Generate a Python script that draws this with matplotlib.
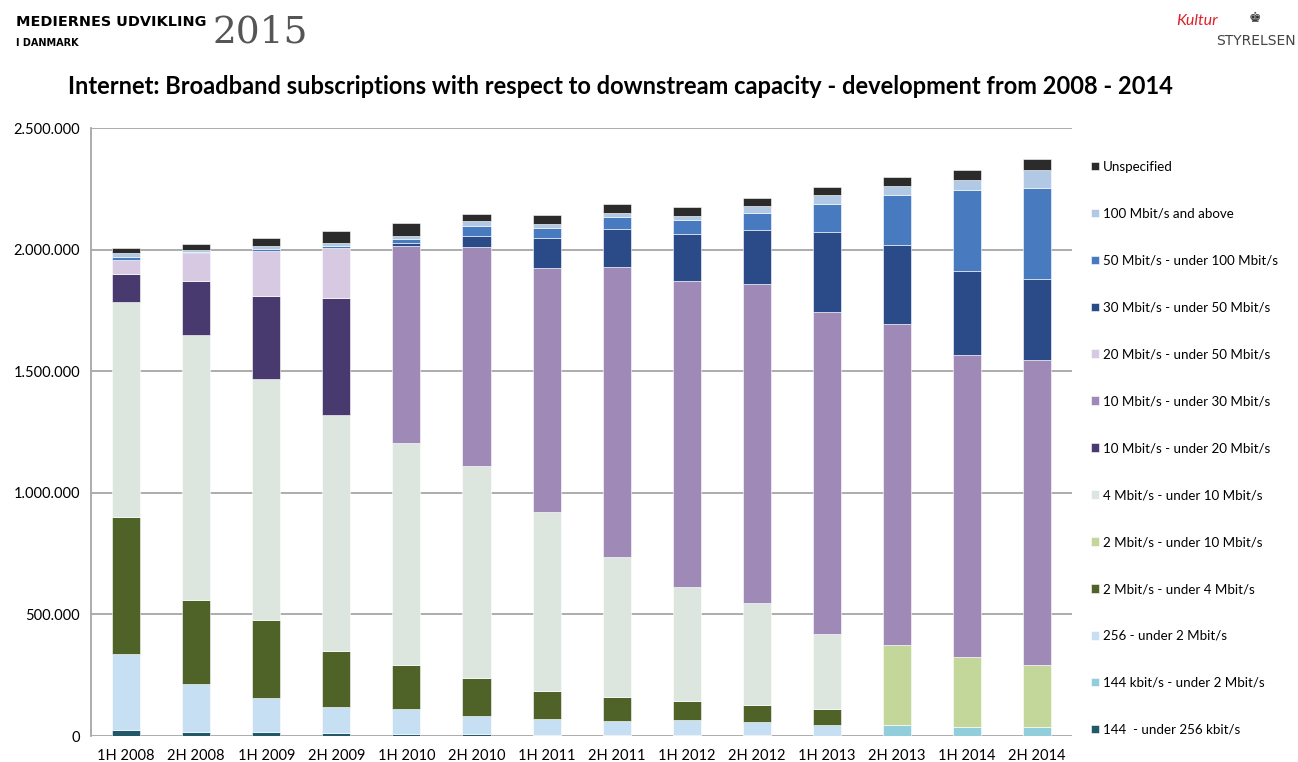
import matplotlib.pyplot as plt
import matplotlib.ticker as mticker
import numpy as np

periods = ['1H 2008', '2H 2008', '1H 2009', '2H 2009', '1H 2010', '2H 2010', '1H 2011',
           '2H 2011', '1H 2012', '2H 2012', '1H 2013', '2H 2013', '1H 2014', '2H 2014']

# subscriptions per capacity band, stacked bottom to top
k144_256 = [25000, 18000, 17000, 12000, 8000, 8000, 4000, 3000, 3000, 3000, 0, 0, 0, 0]
k144_2m = [0, 0, 0, 0, 0, 0, 0, 0, 0, 0, 0, 45000, 38000, 37000]
k256_2m = [312000, 194000, 140000, 108000, 102000, 75000, 66000, 60000, 61000, 54000, 45000, 0, 0, 0]
m2_4 = [563000, 347000, 322000, 229000, 180000, 154000, 115000, 96000, 80000, 70000, 65000, 0, 0, 0]
m2_10 = [0, 0, 0, 0, 0, 0, 0, 0, 0, 0, 0, 329000, 286000, 253000]
m4_10 = [886000, 1088000, 987000, 969000, 913000, 872000, 735000, 576000, 468000, 421000, 309000, 0, 0, 0]
m10_20 = [112000, 222000, 344000, 483000, 0, 0, 0, 0, 0, 0, 0, 0, 0, 0]
m10_30 = [0, 0, 0, 0, 811000, 903000, 1006000, 1195000, 1260000, 1310000, 1324000, 1321000, 1241000, 1258000]
m20_50 = [61000, 118000, 186000, 204000, 0, 0, 0, 0, 0, 0, 0, 0, 0, 0]
m30_50 = [0, 0, 0, 0, 14000, 46000, 121000, 156000, 191000, 222000, 330000, 323000, 349000, 332000]
m50_100 = [10000, 5000, 7000, 9000, 17000, 41000, 43000, 47000, 60000, 69000, 115000, 205000, 330000, 372000]
m100 = [16000, 8000, 11000, 14000, 13000, 17000, 14000, 16000, 17000, 31000, 37000, 40000, 41000, 75000]
unspecified = [23000, 22000, 34000, 47000, 50000, 31000, 39000, 37000, 37000, 32000, 31000, 34000, 41000, 47000]

series = [
    ('144  - under 256 kbit/s', k144_256, '#215968'),
    ('144 kbit/s - under 2 Mbit/s', k144_2m, '#92CDDC'),
    ('256 - under 2 Mbit/s', k256_2m, '#C6DFF2'),
    ('2 Mbit/s - under 4 Mbit/s', m2_4, '#4F6228'),
    ('2 Mbit/s - under 10 Mbit/s', m2_10, '#C4D79B'),
    ('4 Mbit/s - under 10 Mbit/s', m4_10, '#DCE6DF'),
    ('10 Mbit/s - under 20 Mbit/s', m10_20, '#48396E'),
    ('10 Mbit/s - under 30 Mbit/s', m10_30, '#9F89B7'),
    ('20 Mbit/s - under 50 Mbit/s', m20_50, '#D6C9E1'),
    ('30 Mbit/s - under 50 Mbit/s', m30_50, '#2A4A88'),
    ('50 Mbit/s - under 100 Mbit/s', m50_100, '#477ABE'),
    ('100 Mbit/s and above', m100, '#B1C9E5'),
    ('Unspecified', unspecified, '#2B2B2B'),
]

plt.rcParams['font.family'] = ['Lato', 'DejaVu Sans']

fig = plt.figure(figsize=(12.98, 7.62), dpi=100)
ax = fig.add_axes([0.0701, 0.0341, 0.7560, 0.7979])

x = np.arange(len(periods))
bottom = np.zeros(len(periods))
handles = []
for label, vals, color in series:
    vals = np.array(vals, dtype=float)
    h = ax.bar(x, vals, 0.4, bottom=bottom, color=color, label=label,
               edgecolor='white', linewidth=0.4, zorder=3)
    handles.append(h)
    bottom += vals

ax.set_xlim(-0.5, len(periods) - 0.5)
ax.set_ylim(0, 2500000)
ax.yaxis.set_major_locator(mticker.MultipleLocator(500000))
ax.yaxis.set_major_formatter(mticker.FuncFormatter(lambda v, p: '{:,.0f}'.format(v).replace(',', '.')))
ax.grid(axis='y', color='#A6A6A6', linewidth=1.3, zorder=0)
ax.set_xticks(x)
ax.set_xticklabels(periods)
ax.tick_params(axis='both', length=0, labelsize=10.5, colors='black')
ax.tick_params(axis='x', pad=9)
ax.tick_params(axis='y', pad=8)
for side in ['top', 'right', 'bottom']:
    ax.spines[side].set_visible(False)
ax.spines['left'].set_color('#A6A6A6')
ax.spines['left'].set_linewidth(1.3)

ax.legend(handles[::-1], [s[0] for s in series][::-1], loc='upper left',
          bbox_to_anchor=(1.0, 0.977), frameon=False, fontsize=9.6,
          handlelength=0.6, handleheight=0.6, handletextpad=0.3,
          labelspacing=2.62, borderaxespad=1.0)

fig.text(0.478, 0.887, 'Internet: Broadband subscriptions with respect to downstream capacity - development from 2008 - 2014',
         ha='center', va='center', fontsize=17, fontweight='bold')

# header
fig.text(0.012, 0.971, 'MEDIERNES UDVIKLING', ha='left', va='center', fontsize=10.4,
         fontweight='bold', family=['DejaVu Sans'])
fig.text(0.012, 0.944, 'I DANMARK', ha='left', va='center', fontsize=7,
         fontweight='bold', family=['DejaVu Sans'])
fig.text(0.164, 0.957, '2015', ha='left', va='center', fontsize=27,
         color='#555555', family=['DejaVu Serif'])
fig.text(0.906, 0.972, 'Kultur', ha='left', va='center', fontsize=11.5,
         color='#E0202A', style='italic')
fig.text(0.967, 0.976, '\u265a', ha='center', va='center', fontsize=10,
         color='#333333', family=['DejaVu Sans'])
fig.text(0.998, 0.946, 'STYRELSEN', ha='right', va='center', fontsize=10,
         color='#444444', family=['DejaVu Sans'])

fig.savefig('out.png', dpi=100)
